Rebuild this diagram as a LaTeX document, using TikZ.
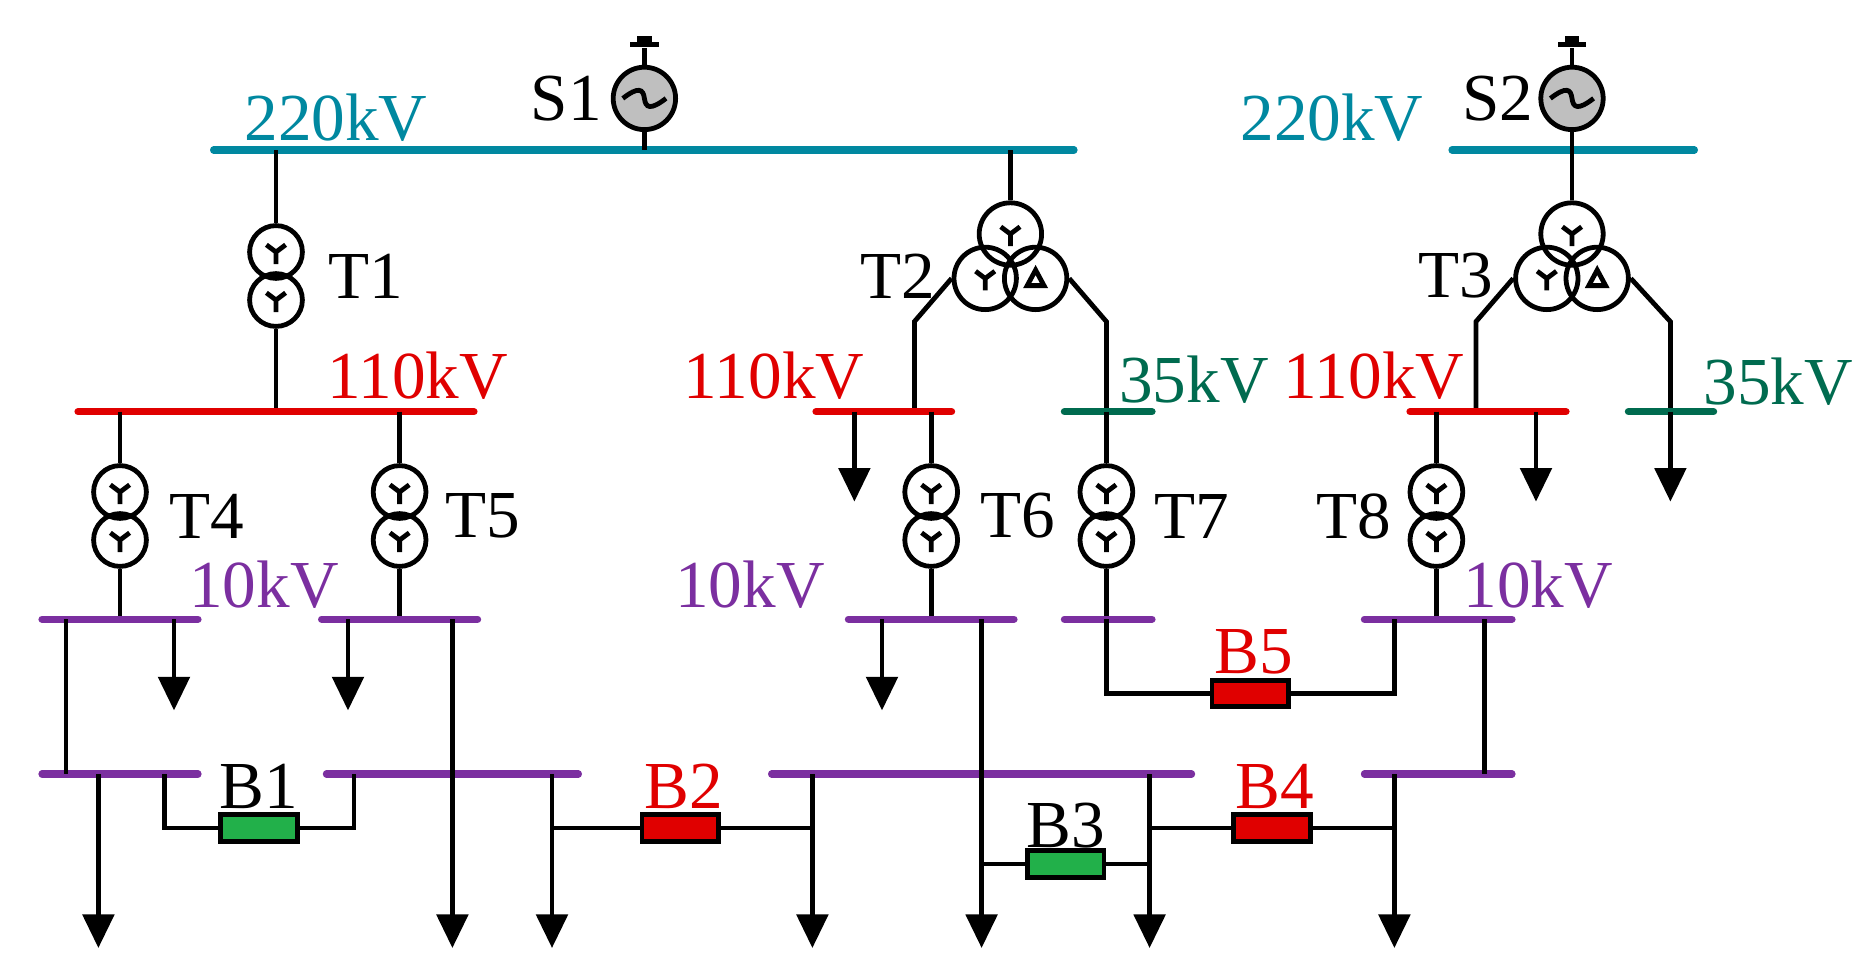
\documentclass[tikz,border=0pt]{standalone}
\usepackage{fontspec}
\setmainfont{Liberation Serif}
\usetikzlibrary{arrows.meta}
\definecolor{cteal}{RGB}{0,136,160}
\definecolor{cred}{RGB}{224,0,0}
\definecolor{cgreen}{RGB}{0,107,79}
\definecolor{cpurp}{RGB}{123,47,160}
\definecolor{bgreen}{RGB}{34,176,74}
\newcommand\wye[1]{\draw[ln] (#1.center)--++(0,10) (#1.center)--++(-8,-6) (#1.center)--++(8,-6);}
\newcommand\dlt[1]{\draw[ln,line join=miter] ([shift={(-7,6)}]#1.center)--([shift={(7,6)}]#1.center)--([shift={(0,-7)}]#1.center)--cycle;}
\begin{document}
\begin{tikzpicture}[x=0.5pt,y=-0.5pt,
  ln/.style={line width=2pt,black},
  bus/.style={line width=3pt,line cap=round},
  xf/.style={circle,draw,line width=2pt,minimum size=22pt,inner sep=0pt},
  xs/.style={circle,draw,line width=2pt,minimum size=26pt,inner sep=0pt},
  gen/.style={circle,draw,fill=gray!50,line width=2pt,minimum size=26pt,inner sep=0pt},
  brk/.style={draw,line width=2pt,minimum width=32pt,minimum height=11pt,inner sep=0pt},
  ld/.style={ln,-{Triangle[width=13pt,length=14pt]}},
  lb/.style={font=\fontsize{28}{28}\selectfont,inner sep=0pt}]
\useasboundingbox (0,0) rectangle (1560,815);
% generators
\foreach \n/\x in {s1/537,s2/1310}{
 \node[gen] (\n) at (\x,82) {};
 \draw[ln] (\n.north)--++(0,-14);
 \fill ([shift={(-12,-15)}]\n.north) rectangle ([shift={(12,-19)}]\n.north);
 \fill ([shift={(-6,-19)}]\n.north) rectangle ([shift={(6,-24)}]\n.north);
 \draw[ln] ([xshift=-9]\n.center) .. controls ([shift={(-5,-10)}]\n.center) and ([shift={(-1,-8)}]\n.center) .. (\n.center) .. controls ([shift={(1,8)}]\n.center) and ([shift={(5,10)}]\n.center) .. ([xshift=9]\n.center);
}
\node[lb] at (472,82) {S1};
\node[lb] at (1248,82) {S2};
% 220 buses
\draw[bus,cteal] (178,125)--(895,125);
\draw[bus,cteal] (1210,125)--(1412,125);
\node[lb,text=cteal] at (280,98) {220kV};
\node[lb,text=cteal] at (1110,98) {220kV};
\draw[ln] (s1.south)--(537,125);
\draw[ln] (s2.south)--(1310,125);
% T1
\node[xf] (t1a) at (230,210) {}; \node[xf] (t1b) at (230,250) {};
\wye{t1a}\wye{t1b}
\draw[ln] (230,125)--(t1a.north); \draw[ln] (t1b.south)--(230,343);
\node[lb] at (305,230) {T1};
% T2
\node[xs] (t2a) at (842,195) {}; \node[xs] (t2b) at (821,232) {}; \node[xs] (t2c) at (863,232) {};
\wye{t2a}\wye{t2b}\dlt{t2c}
\draw[ln] (842,125)--(t2a.north);
\draw[ln] (t2b.west)--(762,268)--(762,343);
\draw[ln] (t2c.east)--(922,268)--(922,343);
\node[lb] at (748,230) {T2};
% T3
\node[xs] (t3a) at (1310,195) {}; \node[xs] (t3b) at (1289,232) {}; \node[xs] (t3c) at (1331,232) {};
\wye{t3a}\wye{t3b}\dlt{t3c}
\draw[ln] (1310,125)--(t3a.north);
\draw[ln] (t3b.west)--(1230,268)--(1230,343);
\draw[ln] (t3c.east)--(1392,268)--(1392,343);
\node[lb] at (1213,230) {T3};
% 110 / 35 buses
\draw[bus,cred] (65,343)--(395,343);
\draw[bus,cred] (680,343)--(793,343);
\draw[bus,cgreen] (887,343)--(960,343);
\draw[bus,cred] (1175,343)--(1305,343);
\draw[bus,cgreen] (1357,343)--(1428,343);
\node[lb,text=cred] at (348,313) {110kV};
\node[lb,text=cred] at (645,313) {110kV};
\node[lb,text=cgreen] at (995,316) {35kV};
\node[lb,text=cred] at (1145,313) {110kV};
\node[lb,text=cgreen] at (1482,318) {35kV};
\draw[ld] (712,343)--(712,418);
\draw[ld] (1280,343)--(1280,418);
\draw[ld] (1392,343)--(1392,418);
% T4..T8
\foreach \n/\x/\lx in {t4/100/172,t5/333/402,t6/776/848,t7/922/993,t8/1197/1128}{
 \node[xf] (\n a) at (\x,410) {}; \node[xf] (\n b) at (\x,450) {};
 \wye{\n a}\wye{\n b}
 \draw[ln] (\x,343)--(\n a.north); \draw[ln] (\n b.south)--(\x,516);
 \node[lb] at (\lx,430) {\MakeUppercase{\n}};
}
% 10kV buses upper
\draw[bus,cpurp] (35,516)--(165,516);
\draw[bus,cpurp] (268,516)--(398,516);
\draw[bus,cpurp] (707,516)--(845,516);
\draw[bus,cpurp] (887,516)--(960,516);
\draw[bus,cpurp] (1137,516)--(1260,516);
\node[lb,text=cpurp] at (220,487) {10kV};
\node[lb,text=cpurp] at (625,487) {10kV};
\node[lb,text=cpurp] at (1282,487) {10kV};
% lower buses
\draw[bus,cpurp] (35,645)--(165,645);
\draw[bus,cpurp] (272,645)--(482,645);
\draw[bus,cpurp] (643,645)--(993,645);
\draw[bus,cpurp] (1137,645)--(1260,645);
% breakers
\node[brk,fill=bgreen] (b1) at (216,690) {};
\node[brk,fill=cred] (b2) at (567,690) {};
\node[brk,fill=bgreen] (b3) at (888,720) {};
\node[brk,fill=cred] (b4) at (1060,690) {};
\node[brk,fill=cred] (b5) at (1042,578) {};
\node[lb] at (216,655) {B1};
\node[lb,text=cred] at (570,655) {B2};
\node[lb] at (888,688) {B3};
\node[lb,text=cred] at (1062,655) {B4};
\node[lb,text=cred] at (1045,543) {B5};
% connections
\draw[ln] (55,516)--(55,645);
\draw[ld] (145,516)--(145,592);
\draw[ld] (290,516)--(290,592);
\draw[ld] (377,516)--(377,790);
\draw[ld] (82,645)--(82,790);
\draw[ln] (137,645)--(137,690)--(b1.west);
\draw[ln] (b1.east)--(295,690)--(295,645);
\draw[ld] (460,645)--(460,790);
\draw[ln] (460,690)--(b2.west);
\draw[ln] (b2.east)--(677,690);
\draw[ld] (677,645)--(677,790);
\draw[ld] (735,516)--(735,592);
\draw[ld] (818,516)--(818,790);
\draw[ln] (818,720)--(b3.west);
\draw[ln] (b3.east)--(958,720);
\draw[ld] (958,645)--(958,790);
\draw[ln] (958,690)--(b4.west);
\draw[ln] (b4.east)--(1162,690);
\draw[ld] (1162,645)--(1162,790);
\draw[ln] (1237,516)--(1237,645);
\draw[ln] (922,516)--(922,578)--(b5.west);
\draw[ln] (b5.east)--(1162,578)--(1162,516);
\end{tikzpicture}
\end{document}
